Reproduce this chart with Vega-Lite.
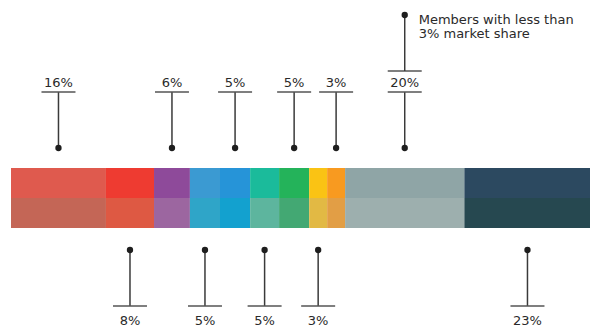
{
  "$schema": "https://vega.github.io/schema/vega-lite/v6.json",
  "width": 590,
  "height": 326,
  "padding": 0,
  "autosize": "none",
  "background": "white",
  "config": {"view": {"stroke": null}},
  "data": {"values": [
    {"id": 1, "share": 16.4, "label": "16%", "side": "top"},
    {"id": 2, "share": 8.3, "label": "8%", "side": "bottom"},
    {"id": 3, "share": 6.2, "label": "6%", "side": "top"},
    {"id": 4, "share": 5.2, "label": "5%", "side": "bottom"},
    {"id": 5, "share": 5.2, "label": "5%", "side": "top"},
    {"id": 6, "share": 5.0, "label": "5%", "side": "bottom"},
    {"id": 7, "share": 5.2, "label": "5%", "side": "top"},
    {"id": 8, "share": 3.1, "label": "3%", "side": "bottom"},
    {"id": 9, "share": 3.1, "label": "3%", "side": "top"},
    {"id": 10, "share": 20.6, "label": "20%", "side": "top", "note": ["Members with less than", "3% market share"]},
    {"id": 11, "share": 21.8, "label": "23%", "side": "bottom"}
  ]},
  "transform": [
    {"stack": "share", "groupby": [], "sort": [{"field": "id", "order": "ascending"}], "as": ["x0", "x1"]},
    {"calculate": "(datum.x0 + datum.x1) / 2", "as": "mid"}
  ],
  "encoding": {
    "x": {"type": "quantitative", "scale": {"domain": [-1.9, 100], "nice": false, "zero": false}, "axis": null}
  },
  "layer": [
    {
      "mark": {"type": "bar", "strokeWidth": 0},
      "encoding": {
        "x": {"field": "x0", "type": "quantitative"},
        "x2": {"field": "x1"},
        "y": {"datum": 0, "type": "quantitative", "scale": {"domain": [-4.267, 6.6], "nice": false, "zero": false}, "axis": null},
        "y2": {"datum": 1},
        "color": {"field": "id", "type": "nominal", "legend": null,
          "scale": {"domain": [1,2,3,4,5,6,7,8,9,10,11],
            "range": ["#df5a4e", "#ee3b31", "#8e4a9a", "#3b9ad2", "#2694d8", "#1bbb9b", "#24b35a", "#fac314", "#f89a20", "#8fa5a6", "#2c4960"]}}
      }
    },
    {
      "mark": {"type": "bar", "strokeWidth": 0},
      "encoding": {
        "x": {"field": "x0", "type": "quantitative"},
        "x2": {"field": "x1"},
        "y": {"datum": -1, "type": "quantitative"},
        "y2": {"datum": 0},
        "fill": {"field": "id", "type": "nominal", "legend": null,
          "scale": {"domain": [1,2,3,4,5,6,7,8,9,10,11],
            "range": ["#c46656", "#de5943", "#9c66a0", "#2fa5c8", "#13a1cf", "#5db59e", "#43a873", "#e2b944", "#e29e45", "#9dafae", "#264850"]}}
      }
    },
    {
      "transform": [{"filter": "datum.side === 'top'"}],
      "mark": {"type": "rule", "color": "#3a3a3a", "strokeWidth": 1.5},
      "encoding": {"x": {"field": "mid", "type": "quantitative"}, "y": {"datum": 1.667}, "y2": {"datum": 3.533}}
    },
    {
      "transform": [{"filter": "datum.side === 'top'"}],
      "mark": {"type": "point", "filled": true, "color": "#1e1e1e", "opacity": 1, "size": 40},
      "encoding": {"x": {"field": "mid", "type": "quantitative"}, "y": {"datum": 1.667}}
    },
    {
      "transform": [{"filter": "datum.side === 'top'"}],
      "mark": {"type": "tick", "orient": "horizontal", "size": 34, "thickness": 1.5, "color": "#555555", "opacity": 1},
      "encoding": {"x": {"field": "mid", "type": "quantitative"}, "y": {"datum": 3.533}}
    },
    {
      "transform": [{"filter": "datum.side === 'top'"}],
      "mark": {"type": "text", "font": "DejaVu Sans", "fontSize": 13, "color": "#2a2a2a", "baseline": "alphabetic", "align": "center"},
      "encoding": {"x": {"field": "mid", "type": "quantitative"}, "y": {"datum": 3.7}, "text": {"field": "label"}}
    },
    {
      "transform": [{"filter": "datum.id === 10"}],
      "mark": {"type": "tick", "orient": "horizontal", "size": 34, "thickness": 1.5, "color": "#555555", "opacity": 1},
      "encoding": {"x": {"field": "mid", "type": "quantitative"}, "y": {"datum": 4.233}}
    },
    {
      "transform": [{"filter": "datum.id === 10"}],
      "mark": {"type": "rule", "color": "#3a3a3a", "strokeWidth": 1.5},
      "encoding": {"x": {"field": "mid", "type": "quantitative"}, "y": {"datum": 4.233}, "y2": {"datum": 6.1}}
    },
    {
      "transform": [{"filter": "datum.id === 10"}],
      "mark": {"type": "point", "filled": true, "color": "#1e1e1e", "opacity": 1, "size": 40},
      "encoding": {"x": {"field": "mid", "type": "quantitative"}, "y": {"datum": 6.1}}
    },
    {
      "transform": [{"filter": "datum.id === 10"}],
      "mark": {"type": "text", "font": "DejaVu Sans", "fontSize": 13, "color": "#2a2a2a", "baseline": "alphabetic", "align": "left", "dx": 14, "lineHeight": 14},
      "encoding": {"x": {"field": "mid", "type": "quantitative"}, "y": {"datum": 5.8}, "text": {"field": "note"}}
    },
    {
      "transform": [{"filter": "datum.side === 'bottom'"}],
      "mark": {"type": "rule", "color": "#3a3a3a", "strokeWidth": 1.5},
      "encoding": {"x": {"field": "mid", "type": "quantitative"}, "y": {"datum": -1.733}, "y2": {"datum": -3.6}}
    },
    {
      "transform": [{"filter": "datum.side === 'bottom'"}],
      "mark": {"type": "point", "filled": true, "color": "#1e1e1e", "opacity": 1, "size": 40},
      "encoding": {"x": {"field": "mid", "type": "quantitative"}, "y": {"datum": -1.733}}
    },
    {
      "transform": [{"filter": "datum.side === 'bottom'"}],
      "mark": {"type": "tick", "orient": "horizontal", "size": 34, "thickness": 1.5, "color": "#555555", "opacity": 1},
      "encoding": {"x": {"field": "mid", "type": "quantitative"}, "y": {"datum": -3.6}}
    },
    {
      "transform": [{"filter": "datum.side === 'bottom'"}],
      "mark": {"type": "text", "font": "DejaVu Sans", "fontSize": 13, "color": "#2a2a2a", "baseline": "alphabetic", "align": "center"},
      "encoding": {"x": {"field": "mid", "type": "quantitative"}, "y": {"datum": -4.22}, "text": {"field": "label"}}
    }
  ]
}
